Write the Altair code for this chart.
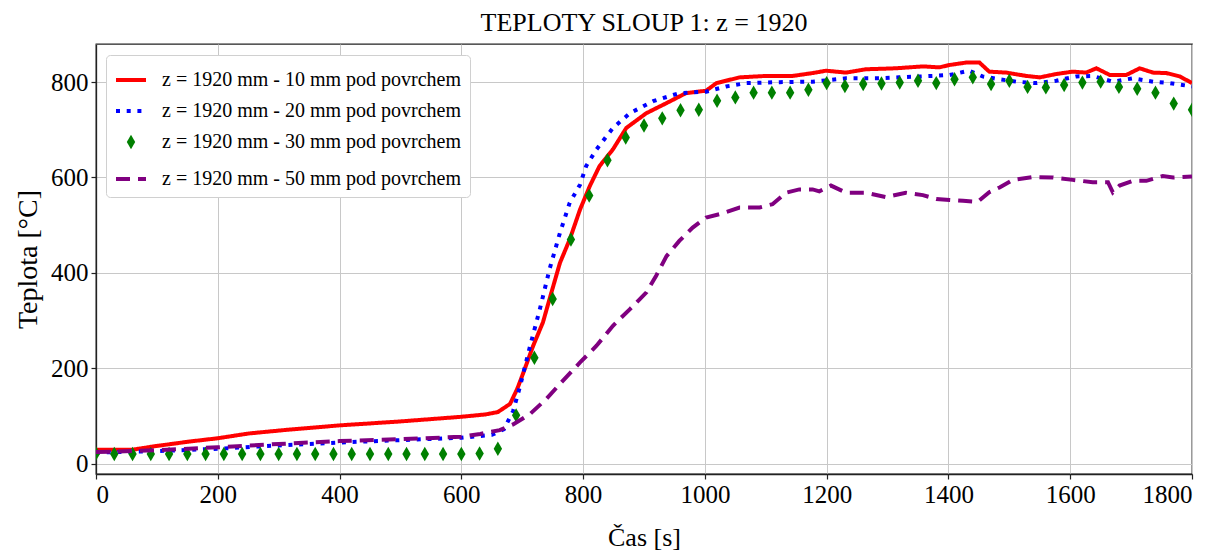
import altair as alt
import pandas as pd

labels = [
    "z = 1920 mm - 10 mm pod povrchem",
    "z = 1920 mm - 20 mm pod povrchem",
    "z = 1920 mm - 30 mm pod povrchem",
    "z = 1920 mm - 50 mm pod povrchem",
]
colors = ["#ff0000", "#0000ff", "#008000", "#800080"]
stroke_colors = ["#ff0000", "#0000ff", "transparent", "#800080"]

t10 = [0, 30, 60, 95, 153, 200, 251, 316, 400, 497, 600, 640, 660, 680, 692, 702, 718, 734, 748, 762,
       778, 795, 811, 827, 849, 871, 904, 937, 969, 1002, 1019, 1057, 1100, 1144, 1177, 1199, 1232,
       1264, 1313, 1358, 1385, 1402, 1429, 1451, 1467, 1495, 1528, 1550, 1577, 1604, 1626, 1643, 1665,
       1692, 1714, 1736, 1758, 1780, 1800]
v10 = [29, 29, 29, 36, 46, 53, 63, 71, 80, 88, 98, 103, 108, 125, 157, 191, 247, 296, 359, 421,
       470, 533, 582, 624, 659, 704, 735, 756, 777, 782, 798, 810, 813, 813, 819, 824, 820,
       827, 829, 833, 831, 836, 841, 841, 822, 820, 813, 810, 817, 822, 820, 829, 815,
       815, 829, 820, 819, 812, 798]

t20 = [0, 100, 200, 300, 400, 500, 600, 650, 670, 685, 696, 713, 729, 745, 762, 778, 795, 805, 822,
       849, 877, 915, 958, 1002, 1035, 1068, 1123, 1177, 1232, 1286, 1319, 1374, 1402, 1434, 1456,
       1484, 1511, 1544, 1577, 1610, 1637, 1670, 1703, 1736, 1763, 1800]
v20 = [23, 26, 31, 38, 44, 49, 54, 60, 72, 110, 160, 247, 324, 408, 484, 547, 585, 624, 659,
       704, 735, 760, 777, 780, 791, 798, 800, 801, 808, 808, 810, 813, 815, 824, 812,
       806, 801, 798, 803, 812, 813, 801, 808, 801, 798, 791]

t30 = list(range(0, 1801, 30))
v30 = [21, 20, 20, 20, 20, 20, 20, 20, 20, 20, 20, 20, 20, 20, 20, 20, 20, 20, 20, 20, 20, 21,
       31, 101, 222, 345, 470, 562, 636, 684, 709, 724, 741, 742, 761, 768, 778, 778, 778, 784,
       798, 792, 796, 797, 799, 803, 798, 806, 810, 796, 803, 790, 789, 794, 799, 801, 790, 786,
       778, 755, 742]

t50 = [0, 100, 200, 300, 400, 500, 600, 631, 663, 685, 713, 740, 767, 795, 822, 849, 877, 904, 920,
       937, 958, 980, 1002, 1024, 1057, 1090, 1111, 1133, 1155, 1177, 1188, 1207, 1232, 1264, 1297,
       1330, 1358, 1380, 1402, 1424, 1448, 1467, 1484, 1506, 1539, 1571, 1604, 1637, 1662, 1670,
       1681, 1703, 1725, 1752, 1769, 1800]
v50 = [24, 28, 34, 41, 47, 51, 56, 62, 70, 82, 104, 136, 174, 212, 247, 289, 324, 359, 394,
       435, 467, 495, 516, 523, 537, 537, 544, 568, 575, 575, 571, 583, 568, 568, 559,
       568, 563, 555, 553, 551, 549, 569, 579, 595, 601, 600, 595, 590, 590, 569,
       583, 593, 593, 603, 600, 602]

rows = []
for lab, ts, vs in [(labels[0], t10, v10), (labels[1], t20, v20),
                    (labels[2], t30, v30), (labels[3], t50, v50)]:
    rows += [{"t": t, "v": v, "s": lab} for t, v in zip(ts, vs)]
df = pd.DataFrame(rows)

diamond = "M0,-0.48L0.28,0L0,0.48L-0.28,0Z"
SYM = 900

leg = alt.Legend(
    title=None, orient="none", legendX=10, legendY=11, padding=8,
    fillColor="white", strokeColor="#d0d0d0", cornerRadius=4,
    labelFont="Liberation Serif", labelFontSize=20, labelColor="black",
    symbolSize=SYM, symbolStrokeWidth=4, rowPadding=4, labelOffset=14,
    symbolOpacity=1, labelLimit=500,
)

fill = alt.Fill("s:N", scale=alt.Scale(domain=labels, range=colors), legend=leg)
stroke = alt.Stroke("s:N", scale=alt.Scale(domain=labels, range=stroke_colors), legend=leg)
dash = alt.StrokeDash("s:N", scale=alt.Scale(domain=labels, range=[[1, 0], [4, 6.7], [1, 0], [14, 8]]), legend=leg)
shape = alt.Shape("s:N", scale=alt.Scale(domain=labels, range=["stroke", "stroke", diamond, "stroke"]), legend=leg)

x = alt.X("t:Q", scale=alt.Scale(domain=[0, 1800], nice=False, zero=False),
          axis=alt.Axis(values=list(range(0, 1801, 200)), format="d", title="Čas [s]", titlePadding=17))
y = alt.Y("v:Q", scale=alt.Scale(domain=[-22, 880], nice=False, zero=False),
          axis=alt.Axis(values=[0, 200, 400, 600, 800], format="d", title="Teplota [°C]",
                        titleFontSize=28, titlePadding=8))

base = alt.Chart(df)
lines_rb = base.transform_filter(
    (alt.datum.s == labels[0]) | (alt.datum.s == labels[1])
).mark_line(strokeWidth=4, clip=True, strokeCap="butt").encode(x=x, y=y, stroke=stroke, strokeDash=dash)

pts = base.transform_filter(alt.datum.s == labels[2]).mark_point(
    filled=True, size=SYM, opacity=1, clip=True, strokeWidth=0
).encode(x=x, y=y, fill=fill, shape=shape)

line_p = base.transform_filter(alt.datum.s == labels[3]).mark_line(
    strokeWidth=4, clip=True, strokeCap="butt"
).encode(x=x, y=y, stroke=stroke, strokeDash=dash)

chart = alt.layer(lines_rb, pts, line_p).properties(
    width=1096, height=430,
    title=alt.TitleParams("TEPLOTY SLOUP 1: z = 1920", font="Liberation Serif", fontSize=26,
                          fontWeight="normal", color="black", anchor="middle", offset=8),
    padding={"left": 96, "top": 44, "right": 29, "bottom": 81},
    autosize=alt.AutoSizeParams(type="none"),
).configure_view(
    stroke="#222222", strokeWidth=1.3
).configure_axis(
    labelFont="Liberation Serif", labelFontSize=25, labelColor="black",
    titleFont="Liberation Serif", titleFontSize=26, titleFontWeight="normal", titleColor="black",
    domainColor="#222222", domainWidth=1.3, tickColor="#222222", tickSize=5, tickWidth=1.2,
    gridColor="#c8c8c8", gridWidth=1, labelPadding=3,
)

chart.save("out.html", embed_options={"renderer": "svg", "actions": False})
